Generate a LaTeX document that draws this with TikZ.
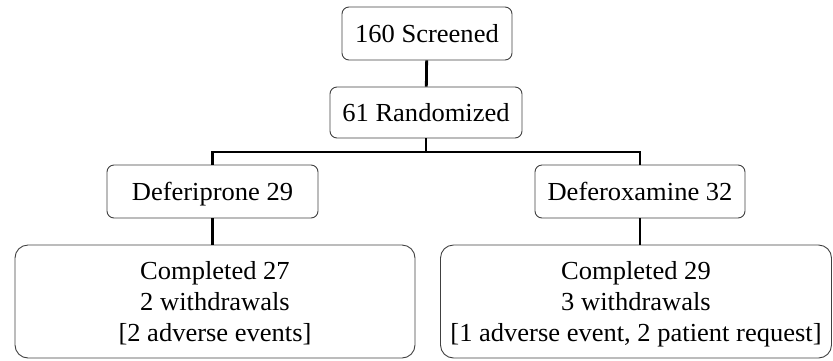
\documentclass[tikz,border=0pt]{standalone}
\usepackage{fontspec}
\setmainfont{Liberation Serif}[FakeStretch=1.02]
\usepackage{tikz}

\tikzset{
	stage/.style={draw=black!75, line width=0.9pt, rounded corners=7pt, align=center,
		inner sep=0pt, text depth=0pt, font=\fontsize{26}{31}\selectfont},
	result/.style={stage, rounded corners=13pt},
	link/.style={draw=black, line width=2.8pt}
}

\begin{document}
\begin{tikzpicture}[x=1pt, y=-1pt]
	\useasboundingbox (0,0) rectangle (833,360);
	\node[stage, minimum width=170pt, minimum height=53pt] (screened) at (427,33.5) {160 Screened};
	\node[stage, minimum width=192pt, minimum height=51pt] (random) at (426,112.5) {61 Randomized};
	\coordinate (split) at (426,152);
	\node[stage, minimum width=211pt, minimum height=53pt] (deferiprone) at (212.5,191.5) {Deferiprone 29};
	\node[stage, minimum width=210pt, minimum height=53pt] (deferoxamine) at (640,191.5) {Deferoxamine 32};
	\node[result, minimum width=400pt, minimum height=113pt] (donepro) at (215,301.5)
	  {Completed 27\\2 withdrawals\\{[2 adverse events]}};
	\node[result, minimum width=391pt, minimum height=113pt] (doneoxa) at (636,301.5)
	  {Completed 29\\3 withdrawals\\{[1 adverse event, 2 patient request]}};
	% connectors
	\draw[link] (screened) -- (random);
	\draw[link] (random) -- (split);
	\draw[link] (deferiprone.north) |- (split) -| (deferoxamine.north);
	\draw[link] (deferiprone.south) -- (deferiprone.south |- donepro.north);
	\draw[link] (deferoxamine.south) -- (deferoxamine.south |- doneoxa.north);
\end{tikzpicture}
\end{document}
